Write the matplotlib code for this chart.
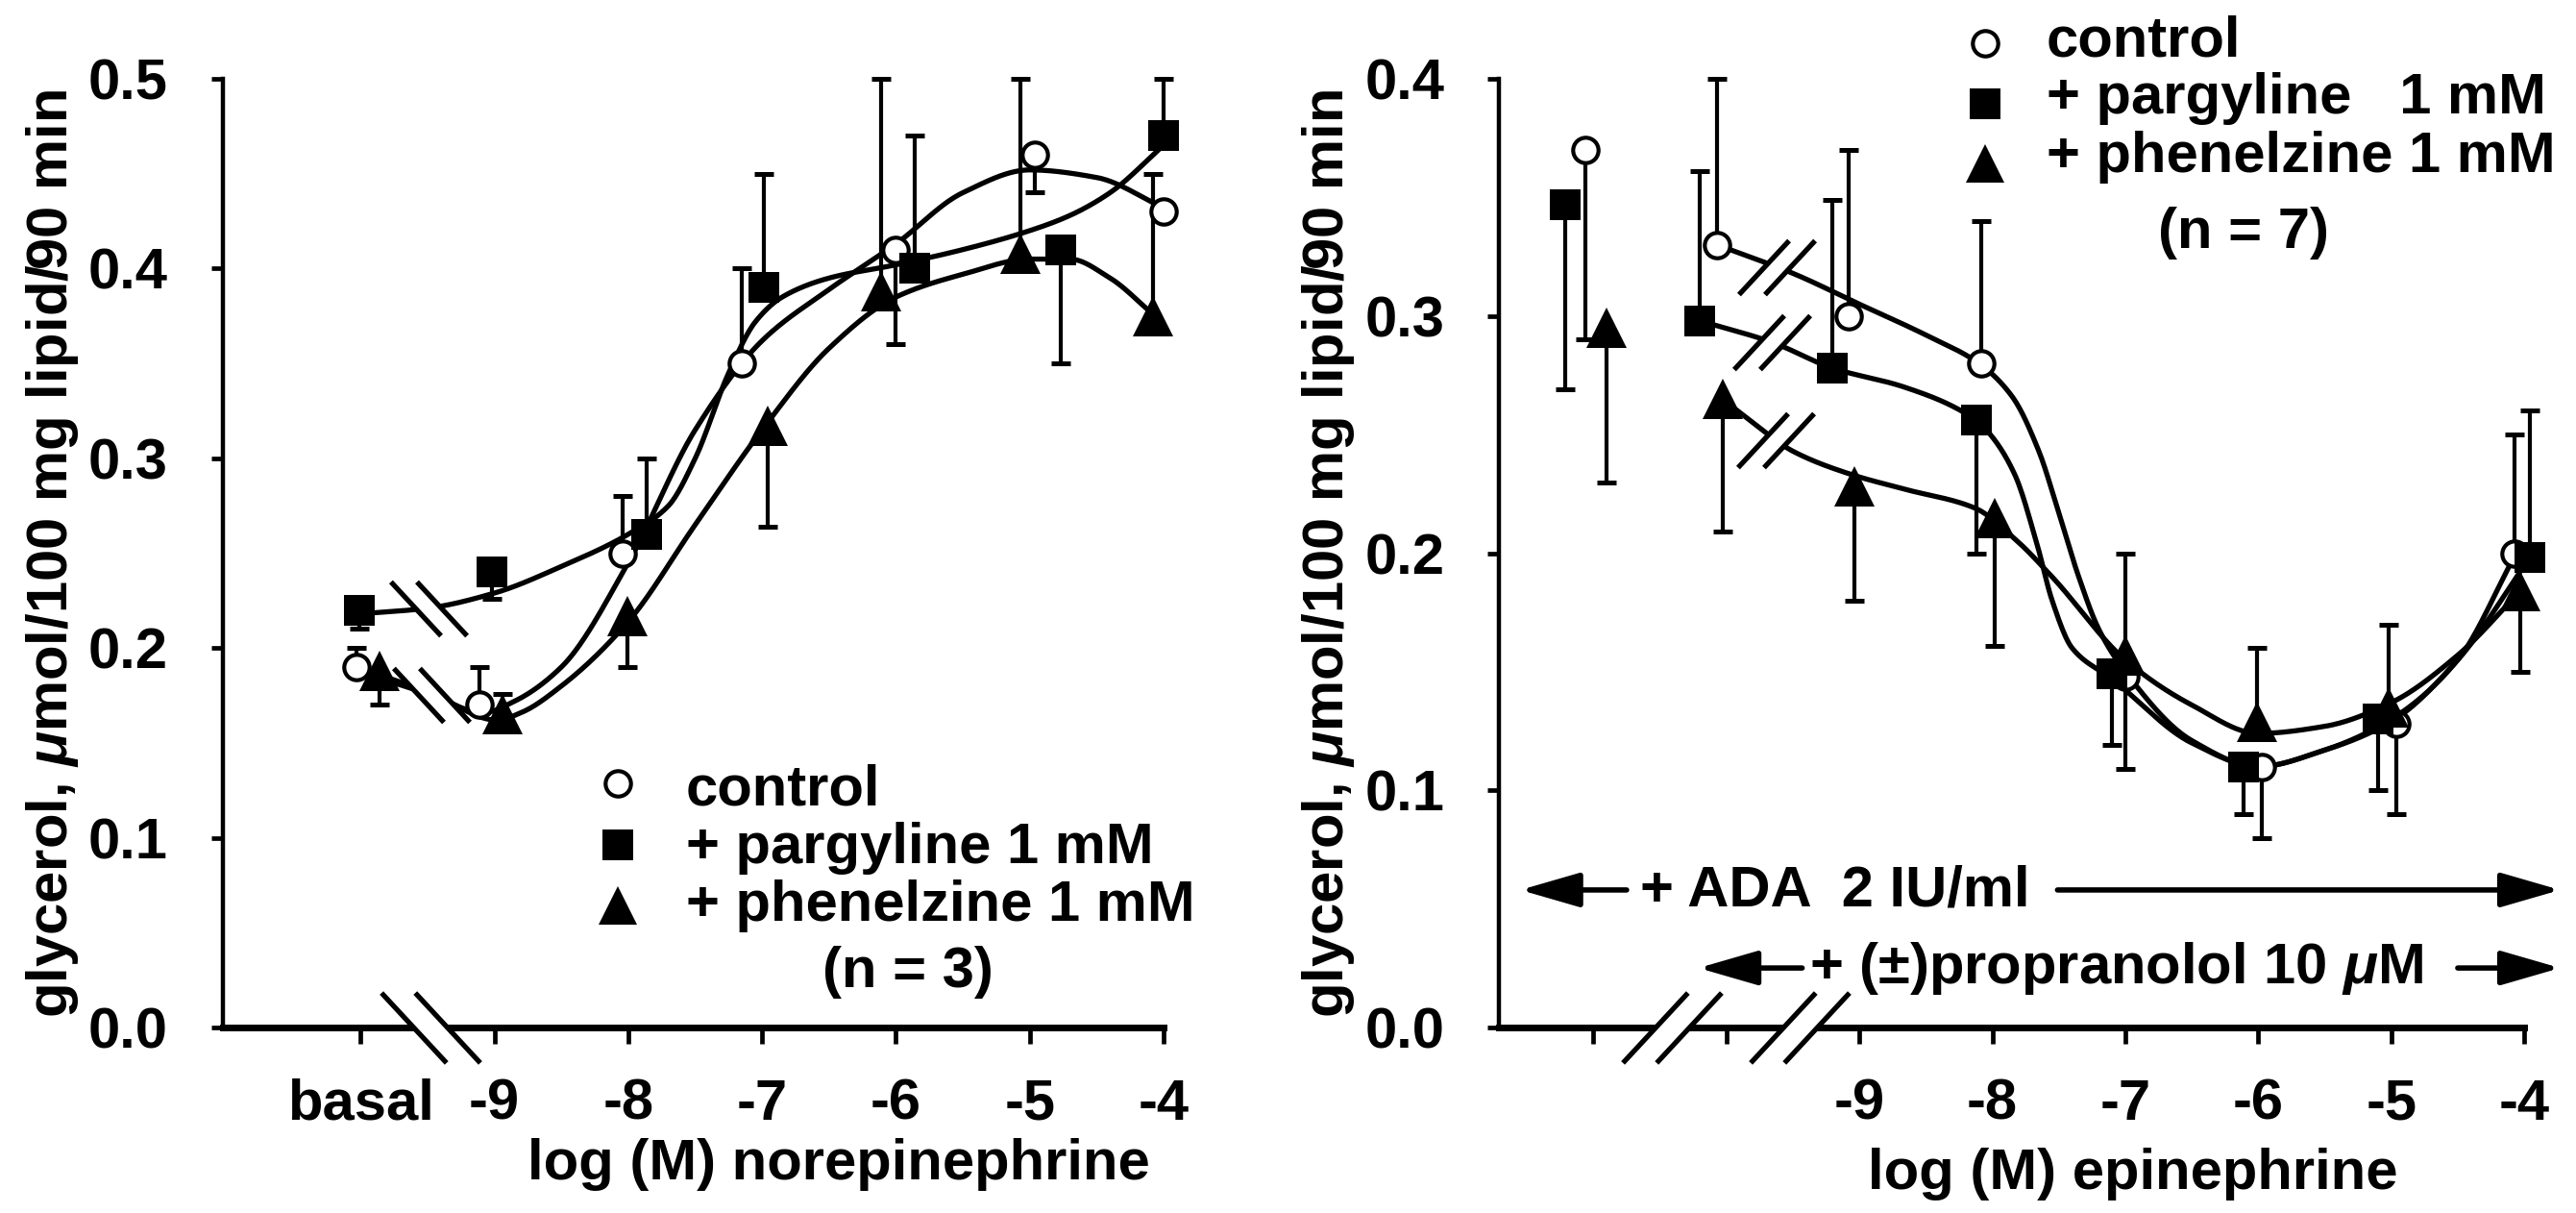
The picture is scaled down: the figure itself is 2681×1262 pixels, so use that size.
import numpy as np
import matplotlib
matplotlib.use('Agg')
import matplotlib.pyplot as plt
from matplotlib.path import Path

plt.rcParams['font.family'] = ['Liberation Sans', 'DejaVu Sans']
plt.rcParams['font.weight'] = 'bold'
plt.rcParams['axes.labelweight'] = 'bold'
plt.rcParams['mathtext.fontset'] = 'custom'
plt.rcParams['mathtext.it'] = 'Liberation Sans:italic:bold'
plt.rcParams['mathtext.rm'] = 'Liberation Sans:bold'
FS = 43

# ---- left panel: norepinephrine (x = log M, basal drawn at -10) ----
ne_ticks = [-10, -9, -8, -7, -6, -5, -4]
ne_ticklabels = ['basal', '-9', '-8', '-7', '-6', '-5', '-4']

ne_ctrl_x = [-10.03, -9.11, -8.04, -7.15, -6.00, -4.96, -4.00]
ne_ctrl_y = [0.190, 0.170, 0.250, 0.350, 0.410, 0.460, 0.430]
ne_ctrl_err = [0.200, 0.190, 0.280, 0.400, 0.360, 0.440, np.nan]

ne_parg_x = [-10.01, -9.02, -7.86, -6.99, -5.86, -4.77, -4.00]
ne_parg_y = [0.220, 0.240, 0.260, 0.390, 0.400, 0.410, 0.470]
ne_parg_err = [0.210, 0.226, 0.300, 0.450, 0.470, 0.350, 0.500]

ne_phen_x = [-9.86, -8.94, -8.01, -6.96, -6.11, -5.07, -4.08]
ne_phen_y = [0.188, 0.165, 0.217, 0.317, 0.388, 0.408, 0.375]
ne_phen_err = [0.170, 0.176, 0.190, 0.264, 0.500, 0.500, 0.450]

# fitted curves
ne_ctrl_cx = [-10.03, -9.5, -9.08, -8.85, -8.5, -8.0, -7.5, -7.0, -6.5, -6.0, -5.5, -5.0, -4.5, -4.0]
ne_ctrl_cy = [0.188, 0.176, 0.166, 0.172, 0.190, 0.245, 0.315, 0.362, 0.389, 0.413, 0.440, 0.452, 0.448, 0.432]
ne_parg_cx = [-10.01, -9.5, -9.0, -8.5, -8.0, -7.7, -7.5, -7.25, -7.05, -6.85, -6.5, -6.0, -5.5, -5.0, -4.7, -4.4, -4.0]
ne_parg_cy = [0.218, 0.221, 0.229, 0.243, 0.260, 0.275, 0.300, 0.345, 0.372, 0.385, 0.395, 0.402, 0.410, 0.420, 0.428, 0.440, 0.465]
ne_phen_cx = [-9.86, -9.47, -8.98, -8.8, -8.5, -8.0, -7.5, -7.0, -6.5, -6.0, -5.5, -5.0, -4.7, -4.4, -4.08]
ne_phen_cy = [0.186, 0.176, 0.162, 0.166, 0.180, 0.214, 0.265, 0.315, 0.358, 0.385, 0.397, 0.405, 0.405, 0.395, 0.376]

# ---- right panel: epinephrine ----
epi_ticks = [-11, -10, -9, -8, -7, -6, -5, -4]
epi_ticklabels = ['', '', '-9', '-8', '-7', '-6', '-5', '-4']

epi_ctrl_x = [-11.06, -10.07, -9.08, -8.08, -7.00, -5.97, -4.96, -4.07]
epi_ctrl_y = [0.370, 0.330, 0.300, 0.280, 0.148, 0.110, 0.128, 0.200]
epi_ctrl_err = [0.290, 0.400, 0.370, 0.340, 0.109, 0.080, 0.090, 0.250]

epi_parg_x = [-11.21, -10.20, -9.20, -8.12, -7.10, -6.11, -5.10, -3.96]
epi_parg_y = [0.347, 0.298, 0.278, 0.256, 0.149, 0.110, 0.130, 0.198]
epi_parg_err = [0.269, 0.361, 0.349, 0.200, 0.119, 0.090, 0.100, 0.260]

epi_phen_x = [-10.90, -10.03, -9.04, -7.98, -7.00, -6.01, -5.02, -4.03]
epi_phen_y = [0.295, 0.265, 0.228, 0.215, 0.157, 0.129, 0.135, 0.184]
epi_phen_err = [0.230, 0.209, 0.180, 0.161, 0.200, 0.160, 0.170, 0.150]

epi_ctrl_cx = [-10.07, -9.5, -9.0, -8.5, -8.1, -7.85, -7.65, -7.5, -7.35, -7.2, -7.0, -6.5, -6.0, -5.5, -5.0, -4.5, -4.07]
epi_ctrl_cy = [0.330, 0.318, 0.305, 0.292, 0.280, 0.266, 0.243, 0.217, 0.190, 0.168, 0.150, 0.121, 0.110, 0.117, 0.130, 0.155, 0.199]
epi_parg_cx = [-10.20, -9.66, -9.2, -8.66, -8.12, -8.0, -7.83, -7.66, -7.55, -7.4, -7.1, -6.5, -6.0, -5.5, -5.0, -4.5, -3.96]
epi_parg_cy = [0.298, 0.289, 0.278, 0.270, 0.256, 0.249, 0.233, 0.203, 0.180, 0.160, 0.147, 0.120, 0.110, 0.117, 0.129, 0.155, 0.198]
epi_phen_cx = [-10.03, -9.8, -9.5, -9.05, -8.66, -8.13, -7.83, -7.55, -7.0, -6.5, -6.0, -5.5, -5.0, -4.5, -4.03]
epi_phen_cy = [0.265, 0.255, 0.243, 0.233, 0.227, 0.219, 0.206, 0.190, 0.155, 0.136, 0.124, 0.127, 0.137, 0.157, 0.184]

labels_left = ['control', '+ pargyline 1 mM', '+ phenelzine 1 mM']
labels_right = ['control', '+ pargyline   1 mM', '+ phenelzine 1 mM']


def pchip(xk, yk, xs):
    xk = np.asarray(xk, float)
    yk = np.asarray(yk, float)
    h = np.diff(xk)
    d = np.diff(yk) / h
    m = np.zeros_like(yk)
    m[0], m[-1] = d[0], d[-1]
    for k in range(1, len(xk) - 1):
        if d[k - 1] * d[k] > 0:
            w1 = 2 * h[k] + h[k - 1]
            w2 = h[k] + 2 * h[k - 1]
            m[k] = (w1 + w2) / (w1 / d[k - 1] + w2 / d[k])
    i = np.clip(np.searchsorted(xk, xs) - 1, 0, len(h) - 1)
    t = (xs - xk[i]) / h[i]
    return ((2*t**3 - 3*t**2 + 1) * yk[i] + (t**3 - 2*t**2 + t) * h[i] * m[i]
            + (-2*t**3 + 3*t**2) * yk[i + 1] + (t**3 - t**2) * h[i] * m[i + 1])


def curve(ax, cx, cy):
    xs = np.linspace(cx[0], cx[-1], 500)
    ax.plot(xs, pchip(cx, cy, xs), color='k', lw=3.8, zorder=2, clip_on=False)


styles = [dict(marker='o', ms=19, mfc='white', mec='k', mew=3.0),
          dict(marker='s', ms=23, mfc='k', mec='k', mew=0),
          dict(marker='^', ms=30, mfc='k', mec='k', mew=0)]


def series(ax, x, y, err, st):
    for xi, yi, ei in zip(x, y, err):
        if np.isnan(ei):
            continue
        ax.plot([xi, xi], [yi, ei], color='k', lw=3.0, zorder=3, clip_on=False,
                solid_capstyle='butt')
        ax.plot([xi], [ei], marker='_', ms=15, mew=3.6, color='k', zorder=3, clip_on=False)
    ax.plot(x, y, ls='none', zorder=4, clip_on=False, **st)


# break symbol (two parallel strokes with white gap)
_ln = [(-39.5, 28), (12.5, -28), (-12.5, 28), (39.5, -28)]
_fl = [(-39.5, 28), (-12.5, 28), (39.5, -28), (12.5, -28), (-39.5, 28)]
_lc = [Path.MOVETO, Path.LINETO, Path.MOVETO, Path.LINETO]
_fc = [Path.MOVETO, Path.LINETO, Path.LINETO, Path.LINETO, Path.CLOSEPOLY]


def brk(ax, x, y, back=True, size=57):
    s = 1 if back else -1
    ln = Path([(s * a, b) for a, b in _ln], _lc)
    fl = Path([(s * a, b) for a, b in _fl], _fc)
    ax.plot([x], [y], ls='none', marker=fl, ms=size, mfc='white', mec='white', mew=1,
            zorder=5, clip_on=False)
    ax.plot([x], [y], ls='none', marker=ln, ms=size, mfc='none', mec='k', mew=3.8,
            zorder=6, clip_on=False)


def frame(ax, ymax):
    for s in ['top', 'right']:
        ax.spines[s].set_visible(False)
    ax.spines['left'].set_linewidth(3.2)
    ax.spines['bottom'].set_linewidth(5.0)
    ax.set_ylim(0, ymax)
    yt = np.round(np.arange(0, ymax + 0.001, 0.1), 1)
    ax.set_yticks(yt)
    ax.set_yticklabels(['%.1f' % v for v in yt])
    ax.tick_params(axis='y', direction='out', length=9, width=3.4, pad=32, labelsize=FS)
    ax.tick_params(axis='x', direction='out', length=12, width=3.4, pad=26, labelsize=FS)
    ax.set_ylabel(r'glycerol, $\mu$mol/100 mg lipid/90 min', fontsize=FS,
                  fontweight='bold', labelpad=6)


fig = plt.figure(figsize=(26.81, 12.62), dpi=100)
ax1 = fig.add_axes([0.0865, 0.1529, 0.3652, 0.7821])
ax2 = fig.add_axes([0.5819, 0.1529, 0.3980, 0.7821])

# left panel
frame(ax1, 0.5)
ax1.set_xlim(-11.03, -4)
ax1.set_xticks(ne_ticks)
ax1.set_xticklabels(ne_ticklabels)
for cx, cy in [(ne_ctrl_cx, ne_ctrl_cy), (ne_parg_cx, ne_parg_cy), (ne_phen_cx, ne_phen_cy)]:
    curve(ax1, cx, cy)
series(ax1, ne_ctrl_x, ne_ctrl_y, ne_ctrl_err, styles[0])
series(ax1, ne_parg_x, ne_parg_y, ne_parg_err, styles[1])
series(ax1, ne_phen_x, ne_phen_y, ne_phen_err, styles[2])
brk(ax1, -9.49, float(pchip(ne_parg_cx, ne_parg_cy, np.array([-9.49]))[0]))
brk(ax1, -9.47, float(pchip(ne_ctrl_cx, ne_ctrl_cy, np.array([-9.47]))[0]))
brk(ax1, -9.48, 0, size=74)

for i, lab in enumerate(labels_left):
    ax1.plot([-8.08], [0.1287 - 0.0322 * i], ls='none', clip_on=False,
             **dict(styles[i], ms=styles[i]['ms'] * (0.95 if i == 2 else 1)))
    ax1.text(-7.57, 0.1175 - 0.0307 * i, lab, fontsize=FS, va='baseline', ha='left')
ax1.text(-5.91, 0.0213, '(n = 3)', fontsize=FS, va='baseline', ha='center')
ax1.text(0.655, -0.160, 'log (M) norepinephrine', transform=ax1.transAxes,
         fontsize=FS, va='baseline', ha='center')

# right panel
frame(ax2, 0.4)
ax2.set_xlim(-11.71, -4)
ax2.set_xticks(epi_ticks)
ax2.set_xticklabels(epi_ticklabels)
for cx, cy in [(epi_ctrl_cx, epi_ctrl_cy), (epi_parg_cx, epi_parg_cy), (epi_phen_cx, epi_phen_cy)]:
    curve(ax2, cx, cy)
series(ax2, epi_ctrl_x, epi_ctrl_y, epi_ctrl_err, styles[0])
series(ax2, epi_parg_x, epi_parg_y, epi_parg_err, styles[1])
series(ax2, epi_phen_x, epi_phen_y, epi_phen_err, styles[2])
for bx, cx, cy in [(-9.62, epi_ctrl_cx, epi_ctrl_cy), (-9.66, epi_parg_cx, epi_parg_cy),
                   (-9.63, epi_phen_cx, epi_phen_cy)]:
    brk(ax2, bx, float(pchip(cx, cy, np.array([bx]))[0]), back=False)
brk(ax2, -10.41, 0, back=False, size=74)
brk(ax2, -9.45, 0, back=False, size=74)

for i, lab in enumerate(labels_right):
    ax2.plot([-8.055], [0.415 - 0.0254 * i], ls='none', clip_on=False,
             **dict(styles[i], ms=styles[i]['ms'] * (0.95 if i == 2 else 1)))
    ax2.text(-7.593, 0.4097 - 0.0244 * i, lab, fontsize=FS, va='baseline', ha='left')
ax2.text(-6.11, 0.3287, '(n = 7)', fontsize=FS, va='baseline', ha='center')
ax2.text(0.618, -0.170, 'log (M) epinephrine', transform=ax2.transAxes,
         fontsize=FS, va='baseline', ha='center')

arrow = dict(arrowstyle='-|>,head_length=1.9,head_width=0.55', lw=4, color='k',
             mutation_scale=20, shrinkA=0, shrinkB=0)
for y, x0, x1 in [(0.058, -10.75, -11.55), (0.058, -7.51, -3.73),
                  (0.0251, -9.43, -10.21), (0.0251, -4.50, -3.73)]:
    ax2.annotate('', xy=(x1, y), xytext=(x0, y), arrowprops=arrow, annotation_clip=False)
ax2.text(-10.65, 0.0511, '+ ADA  2 IU/ml', fontsize=FS, va='baseline', ha='left')
ax2.text(-9.38, 0.0186, r'+ ($\pm$)propranolol 10 $\mu$M', fontsize=FS, va='baseline', ha='left')

fig.savefig('out.png', dpi=100)
